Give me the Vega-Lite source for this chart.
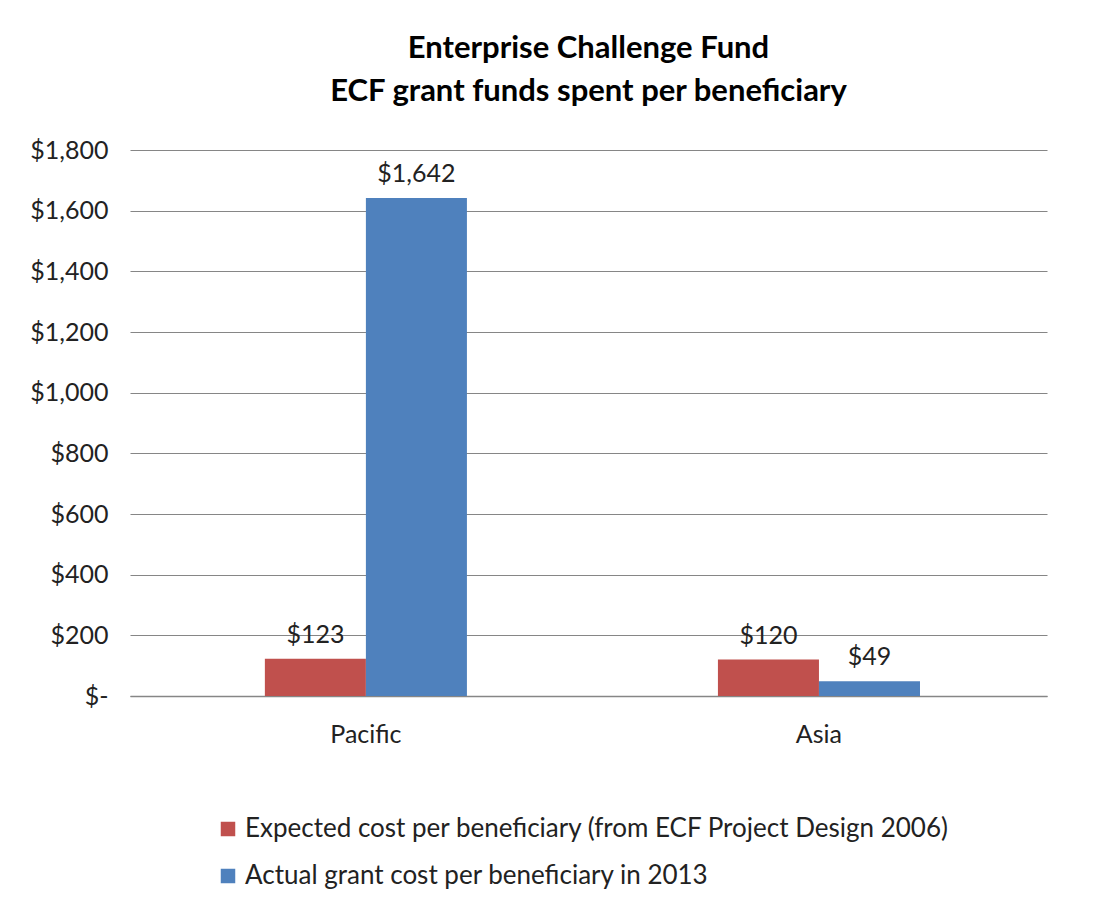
{
  "$schema": "https://vega.github.io/schema/vega-lite/v6.json",
  "autosize": "none",
  "width": 917,
  "height": 546,
  "padding": {"left": 130, "top": 150, "right": 73, "bottom": 224},
  "background": "white",
  "config": {
    "font": "Lato",
    "view": {"stroke": null}
  },
  "title": {
    "text": ["Enterprise Challenge Fund", "ECF grant funds spent per beneficiary"],
    "fontSize": 31,
    "fontWeight": "bold",
    "font": "Lato",
    "color": "#000000",
    "lineHeight": 43,
    "offset": 30,
    "anchor": "middle"
  },
  "data": {
    "values": [
      {"region": "Pacific", "series": "Expected cost per beneficiary (from ECF Project Design 2006)", "value": 123},
      {"region": "Pacific", "series": "Actual grant cost per beneficiary in 2013", "value": 1642},
      {"region": "Asia", "series": "Expected cost per beneficiary (from ECF Project Design 2006)", "value": 120},
      {"region": "Asia", "series": "Actual grant cost per beneficiary in 2013", "value": 49}
    ]
  },
  "encoding": {
    "x": {
      "field": "region",
      "type": "nominal",
      "sort": ["Pacific", "Asia"],
      "scale": {"paddingInner": 0.554, "paddingOuter": 0.289, "align": 0.515},
      "axis": {
        "title": null,
        "labelAngle": 0,
        "labelFontSize": 25,
        "labelColor": "#222222",
        "labelPadding": 26,
        "ticks": false,
        "domain": true,
        "domainColor": "#868686",
        "domainWidth": 1.5
      }
    },
    "xOffset": {
      "field": "series",
      "type": "nominal",
      "sort": ["Expected cost per beneficiary (from ECF Project Design 2006)", "Actual grant cost per beneficiary in 2013"]
    },
    "y": {
      "field": "value",
      "type": "quantitative",
      "scale": {"domain": [0, 1800]},
      "axis": {
        "title": null,
        "values": [0, 200, 400, 600, 800, 1000, 1200, 1400, 1600, 1800],
        "labelExpr": "datum.value == 0 ? '$-\u2003' : '$' + format(datum.value, ',')",
        "labelFontSize": 25,
        "labelColor": "#222222",
        "labelPadding": 22,
        "ticks": false,
        "domain": false,
        "grid": true,
        "gridColor": "#868686",
        "gridWidth": 1.2
      }
    },
    "color": {
      "field": "series",
      "type": "nominal",
      "sort": ["Expected cost per beneficiary (from ECF Project Design 2006)", "Actual grant cost per beneficiary in 2013"],
      "scale": {"range": ["#C0504D", "#4F81BD"]},
      "legend": {
        "title": null,
        "orient": "none",
        "legendX": 85,
        "legendY": 666,
        "direction": "vertical",
        "symbolType": "square",
        "symbolSize": 210,
        "symbolStrokeWidth": 0,
        "labelFontSize": 26,
        "labelColor": "#222222",
        "labelLimit": 1000,
        "rowPadding": 21,
        "labelOffset": 4
      }
    }
  },
  "layer": [
    {"mark": {"type": "bar"}},
    {
      "mark": {"type": "text", "dy": -24, "fontSize": 25, "color": "#222222"},
      "encoding": {
        "text": {"field": "value", "type": "quantitative", "format": "$,"},
        "color": {"value": "#222222"}
      }
    }
  ]
}
